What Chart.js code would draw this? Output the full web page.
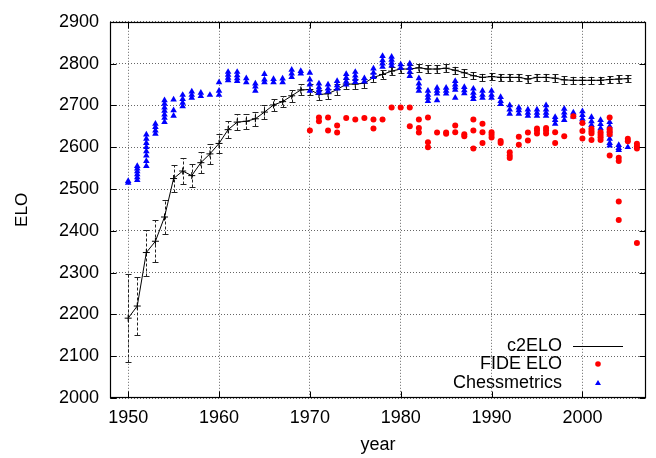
<!DOCTYPE html>
<html>
<head>
<meta charset="utf-8">
<script src="https://cdn.jsdelivr.net/npm/chart.js@4"></script>
<style>
  html, body { margin: 0; padding: 0; background: #fff; }
</style>
</head>
<body>
<canvas id="chart" width="656" height="458"></canvas>
<script>
"use strict";

const FONT = "Liberation Sans";

const X_TICKS = [1950, 1960, 1970, 1980, 1990, 2000];
const Y_TICKS = [2000, 2100, 2200, 2300, 2400, 2500, 2600, 2700, 2800, 2900];

// c2ELO: value and error per year
const C2_YEARS = [
  1950, 1951, 1952, 1953, 1954, 1955, 1956, 1957, 1958, 1959,
  1960, 1961, 1962, 1963, 1964, 1965, 1966, 1967, 1968, 1969,
  1970, 1971, 1972, 1973, 1974, 1975, 1976, 1977, 1978, 1979,
  1980, 1981, 1982, 1983, 1984, 1985, 1986, 1987, 1988, 1989,
  1990, 1991, 1992, 1993, 1994, 1995, 1996, 1997, 1998, 1999,
  2000, 2001, 2002, 2003, 2004, 2005,
];
const C2_ELO = [
  2191, 2220, 2348, 2375, 2433, 2525, 2543, 2532, 2563, 2584,
  2609, 2642, 2660, 2662, 2668, 2684, 2701, 2709, 2723, 2737,
  2738, 2726, 2728, 2738, 2751, 2751, 2753, 2767, 2774, 2782,
  2787, 2787, 2790, 2787, 2787, 2789, 2784, 2778, 2771, 2767,
  2769, 2767, 2767, 2767, 2763, 2767, 2767, 2765, 2761, 2760,
  2760, 2760, 2760, 2762, 2763, 2764,
];
const C2_ERR = [
  105, 70, 55, 50, 40, 33, 30, 27, 25, 24,
  23, 21, 19, 18, 17, 16, 15, 14, 14, 13,
  13, 12, 12, 12, 11, 11, 11, 11, 11, 10,
  10, 10, 10, 10, 10, 10, 9, 9, 9, 9,
  9, 9, 9, 9, 9, 9, 9, 9, 9, 9,
  9, 9, 9, 9, 9, 9,
];

// FIDE ELO: several players per year
const FIDE_YEARS = [
  1970, 1971, 1972, 1973, 1974, 1975, 1976, 1977, 1978, 1979,
  1980, 1981, 1982, 1983, 1984, 1985, 1986, 1987, 1988, 1989,
  1990, 1991, 1992, 1993, 1994, 1995, 1996, 1997, 1998, 1999,
  2000, 2001, 2002, 2003, 2004, 2005, 2006,
];
const FIDE_ELO = [
  [2640], [2662, 2671], [2640, 2671], [2635, 2652], [2670], [2666], [2670],
  [2645, 2666], [2666], [2695],
  [2695], [2650, 2695], [2635, 2646, 2666], [2600, 2612, 2671], [2635],
  [2632, 2635], [2636, 2652], [2626, 2631], [2597, 2640, 2666], [2610, 2636, 2656],
  [2623, 2630, 2636], [2610, 2615], [2574, 2580, 2588], [2606, 2625], [2616, 2635],
  [2633, 2640, 2645], [2633, 2640, 2646], [2610, 2636], [2626], [2674],
  [2621, 2639, 2658], [2617, 2633, 2638, 2644], [2617, 2624, 2630, 2636],
  [2580, 2631, 2637, 2643, 2671], [2426, 2470, 2567, 2575], [2614, 2620],
  [2371, 2597, 2602, 2608],
];

// Chessmetrics: several players per year
const CM_YEARS = [
  1950, 1951, 1952, 1953, 1954, 1955, 1956, 1957, 1958, 1959,
  1960, 1961, 1962, 1963, 1964, 1965, 1966, 1967, 1968, 1969,
  1970, 1971, 1972, 1973, 1974, 1975, 1976, 1977, 1978, 1979,
  1980, 1981, 1982, 1983, 1984, 1985, 1986, 1987, 1988, 1989,
  1990, 1991, 1992, 1993, 1994, 1995, 1996, 1997, 1998, 1999,
  2000, 2001, 2002, 2003, 2004, 2005,
];
const CM_ELO = [
  [2515, 2519], [2521, 2528, 2535, 2542, 2549, 2555],
  [2555, 2567, 2580, 2590, 2600, 2610, 2620, 2630], [2632, 2640, 2648, 2656],
  [2660, 2670, 2678, 2687, 2695, 2704, 2712], [2675, 2688, 2714],
  [2698, 2706, 2715, 2725], [2718, 2725, 2733], [2722, 2730], [2725],
  [2725, 2735, 2755], [2760, 2766, 2773, 2780], [2758, 2765, 2772, 2780],
  [2755, 2765], [2735, 2745, 2752], [2755, 2762, 2775], [2755, 2763],
  [2755, 2764], [2768, 2776, 2785], [2776, 2782],
  [2735, 2750, 2762, 2778], [2730, 2736, 2743, 2752], [2733, 2740, 2750],
  [2740, 2748, 2758], [2750, 2757, 2766, 2775], [2756, 2763, 2771, 2780],
  [2757, 2765], [2768, 2778, 2788], [2792, 2800, 2808, 2818], [2795, 2802, 2809, 2816],
  [2790, 2798], [2770, 2780, 2790, 2800], [2735, 2743, 2752, 2765],
  [2710, 2718, 2725, 2735], [2712, 2728, 2735, 2742], [2728, 2735, 2742],
  [2718, 2737, 2743, 2750, 2758], [2729, 2736, 2744], [2715, 2722, 2730, 2740],
  [2718, 2725, 2735],
  [2718, 2725, 2735], [2703, 2710, 2720], [2680, 2690, 2700], [2680, 2688, 2695],
  [2675, 2682, 2690], [2675, 2682, 2690], [2675, 2682, 2690, 2700],
  [2656, 2665, 2672], [2665, 2675, 2683, 2692], [2673, 2683],
  [2660, 2668, 2677, 2686], [2653, 2662, 2672], [2645, 2655, 2665],
  [2604, 2610, 2620, 2630, 2640, 2650, 2660], [2593, 2598, 2605], [2600],
];

function flatten(years, vals) {
  const out = [];
  years.forEach((yr, i) => vals[i].forEach((v) => out.push({ x: yr, y: v })));
  return out;
}

// error bars under the c2ELO line
const errorBars = {
  id: "errorBars",
  beforeDatasetsDraw(chart) {
    const { ctx, chartArea: a, scales: { x, y } } = chart;
    ctx.save();
    ctx.beginPath();
    ctx.rect(a.left, a.top, a.right - a.left, a.bottom - a.top);
    ctx.clip();
    ctx.strokeStyle = "#222";
    ctx.lineWidth = 1;
    C2_YEARS.forEach((yr, i) => {
      const px = Math.round(x.getPixelForValue(yr)) + 0.5;
      const lo = Math.round(y.getPixelForValue(C2_ELO[i] - C2_ERR[i])) + 0.5;
      const hi = Math.round(y.getPixelForValue(C2_ELO[i] + C2_ERR[i])) + 0.5;
      ctx.setLineDash([3, 2]);
      ctx.beginPath();
      ctx.moveTo(px, lo); ctx.lineTo(px, hi);
      ctx.stroke();
      ctx.setLineDash([]);
      ctx.beginPath();
      ctx.moveTo(px - 3, lo); ctx.lineTo(px + 3, lo);
      ctx.moveTo(px - 3, hi); ctx.lineTo(px + 3, hi);
      ctx.stroke();
    });
    ctx.restore();
  },
};

// gnuplot-style box, mirrored inner ticks, key in the lower right
const frameAndKey = {
  id: "frameAndKey",
  afterDraw(chart) {
    const { ctx, chartArea: a, scales: { x, y } } = chart;
    const L = Math.round(a.left) + 0.5, R = Math.round(a.right) - 0.5;
    const T = Math.round(a.top) + 0.5, B = Math.round(a.bottom) - 0.5;
    ctx.save();
    ctx.strokeStyle = "#000";
    ctx.lineWidth = 1.2;
    ctx.strokeRect(L, T, R - L, B - T);
    ctx.lineWidth = 1;
    ctx.beginPath();
    Y_TICKS.forEach((v) => {
      const py = Math.round(y.getPixelForValue(v)) + 0.5;
      ctx.moveTo(L, py); ctx.lineTo(L + 6, py);
      ctx.moveTo(R, py); ctx.lineTo(R - 6, py);
    });
    X_TICKS.forEach((v) => {
      const px = Math.round(x.getPixelForValue(v)) + 0.5;
      ctx.moveTo(px, B); ctx.lineTo(px, B - 6);
      ctx.moveTo(px, T); ctx.lineTo(px, T + 6);
    });
    ctx.stroke();

    const textR = a.right - 84;
    const sx = a.right - 48;
    const rows = [a.bottom - 52, a.bottom - 34, a.bottom - 15];
    ctx.font = `18px "${FONT}"`;
    ctx.fillStyle = "#000";
    ctx.textAlign = "right";
    ctx.textBaseline = "middle";
    ctx.fillText("c2ELO", textR, rows[0]);
    ctx.fillText("FIDE ELO", textR, rows[1]);
    ctx.fillText("Chessmetrics", textR, rows[2]);

    ctx.beginPath();
    ctx.moveTo(a.right - 73, Math.round(rows[0]) + 0.5);
    ctx.lineTo(a.right - 23, Math.round(rows[0]) + 0.5);
    ctx.stroke();

    ctx.fillStyle = "#ff0000";
    ctx.beginPath();
    ctx.arc(sx, rows[1], 2.8, 0, Math.PI * 2);
    ctx.fill();

    ctx.fillStyle = "#0000ff";
    ctx.beginPath();
    ctx.moveTo(sx, rows[2] - 3);
    ctx.lineTo(sx + 3, rows[2] + 2);
    ctx.lineTo(sx - 3, rows[2] + 2);
    ctx.closePath();
    ctx.fill();
    ctx.restore();
  },
};

const tickFont = { family: FONT, size: 18 };

new Chart(document.getElementById("chart"), {
  type: "scatter",
  data: {
    datasets: [
      {
        label: "c2ELO",
        data: C2_YEARS.map((yr, i) => ({ x: yr, y: C2_ELO[i] })),
        showLine: true,
        borderColor: "#000",
        borderWidth: 1,
        tension: 0,
        pointStyle: "cross",
        pointRadius: 3.5,
        pointBorderColor: "#000",
        pointBorderWidth: 1,
        order: 3,
      },
      {
        label: "FIDE ELO",
        data: flatten(FIDE_YEARS, FIDE_ELO),
        pointStyle: "circle",
        pointRadius: 3,
        backgroundColor: "#ff0000",
        borderColor: "#ff0000",
        borderWidth: 0,
        order: 1,
      },
      {
        label: "Chessmetrics",
        data: flatten(CM_YEARS, CM_ELO),
        pointStyle: "triangle",
        pointRadius: 3.8,
        backgroundColor: "#0000ff",
        borderColor: "#0000ff",
        borderWidth: 0,
        order: 2,
      },
    ],
  },
  options: {
    responsive: false,
    animation: false,
    devicePixelRatio: 1,
    layout: { padding: { left: 0, top: 11, right: 10, bottom: 0 } },
    plugins: { legend: { display: false }, tooltip: { enabled: false } },
    scales: {
      x: {
        type: "linear",
        min: 1948,
        max: 2007,
        afterBuildTicks: (s) => { s.ticks = X_TICKS.map((v) => ({ value: v })); },
        afterFit: (s) => { s.height = 60; },
        grid: { color: "#666", drawTicks: false },
        border: { display: false, dash: [1, 2] },
        ticks: { color: "#000", font: tickFont, padding: 9, maxRotation: 0, autoSkip: false, callback: (v) => String(v) },
        title: { display: true, text: "year", color: "#000", font: tickFont, padding: { top: 0, bottom: 2 } },
      },
      y: {
        type: "linear",
        min: 2000,
        max: 2900,
        afterBuildTicks: (s) => { s.ticks = Y_TICKS.map((v) => ({ value: v })); },
        afterFit: (s) => { s.width = 110; },
        grid: { color: "#666", drawTicks: false },
        border: { display: false, dash: [1, 2] },
        ticks: { color: "#000", font: tickFont, padding: 11, autoSkip: false, callback: (v) => String(v) },
        title: { display: true, text: "ELO", color: "#000", font: { family: FONT, size: 17 }, padding: { top: 12, bottom: 0 } },
      },
    },
  },
  plugins: [errorBars, frameAndKey],
});
</script>
</body>
</html>
